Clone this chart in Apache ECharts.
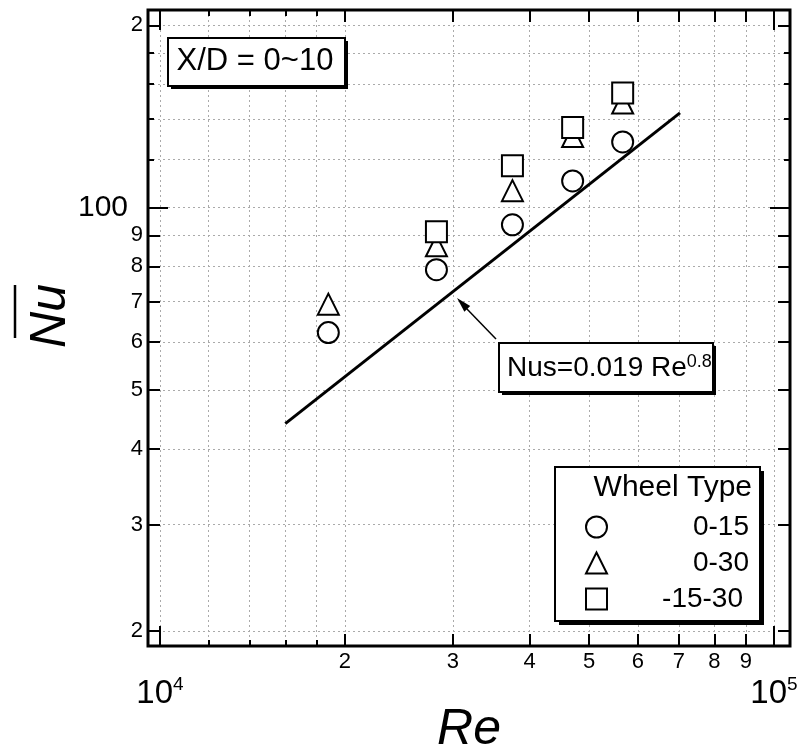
<!DOCTYPE html>
<html><head><meta charset="utf-8">
<script src="https://cdn.jsdelivr.net/npm/echarts@6/dist/echarts.min.js"></script>
<style>html,body{margin:0;padding:0;background:#fff}#c{width:807px;height:754px}</style>
</head><body><div id="c"></div>
<script>
const FONT = '"Liberation Sans", Arial, Helvetica, sans-serif';
const seriesNames = ['0-15', '0-30', '-15-30'];
const reCircle = [18800, 28200, 37500, 47000, 56700];
const nuCircle = [62.2, 79.0, 93.7, 110.7, 128.4];
const reTriangle = [18800, 28200, 37500, 47000, 56700];
const nuTriangle = [69.3, 86.5, 106.7, 131.1, 148.9];
const reSquare = [28200, 37500, 47000, 56700];
const nuSquare = [91.3, 117.3, 135.6, 154.6];
const fitRe = [16000, 70300];
const fitNu = [44.0, 143.4];
const xAllTicks = [10000, 12000, 14000, 16000, 18000, 20000, 30000, 40000, 50000, 60000, 70000, 80000, 90000, 100000];
const xLabelTicks = [20000, 30000, 40000, 50000, 60000, 70000, 80000, 90000];
const xDecadeTicks = [10000, 100000];
const yAllTicks = [20, 30, 40, 50, 60, 70, 80, 90, 100, 120, 140, 160, 180, 200];
const yMajorTicks = [20, 30, 40, 50, 60, 70, 80, 90, 200];
const yLabelTicks = [20, 30, 40, 50, 60, 70, 80, 90, 100, 200];
const yDecadeTicks = [100];
const X_MIN = 9560, X_MAX = 106200, Y_MIN = 18.9, Y_MAX = 212;

function mkAxis(pos, isX, ticks, len, more) {
  return Object.assign({
    type: 'log', logBase: 10, position: pos,
    min: isX ? X_MIN : Y_MIN, max: isX ? X_MAX : Y_MAX,
    axisLine: { show: false },
    axisTick: { show: true, inside: true, length: len, customValues: ticks, lineStyle: { color: '#000', width: 2 } },
    axisLabel: { show: false },
    splitLine: { show: false },
    minorTick: { show: false }, minorSplitLine: { show: false },
    silent: true
  }, more || {});
}
const gridLine = { show: true, lineStyle: { color: '#aaa', type: [2, 3], width: 1 } };
const markerStyle = { color: '#fff', borderColor: '#000', borderWidth: 2, opacity: 1 };

const chart = echarts.init(document.getElementById('c'), null, { renderer: 'canvas' });
const option = {
  animation: false,
  backgroundColor: '#fff',
  textStyle: { fontFamily: FONT },
  grid: { left: 148, top: 10, width: 642, height: 636, containLabel: false, outerBoundsMode: 'none', show: true, borderColor: '#000', borderWidth: 3, backgroundColor: 'transparent' },
  xAxis: [
    mkAxis('bottom', true, xAllTicks, 6, {
      name: 'Re', nameLocation: 'middle', nameGap: 59, nameMoveOverlap: false,
      nameTextStyle: { fontSize: 50, fontStyle: 'italic', color: '#000', fontFamily: FONT },
      splitLine: gridLine,
      axisLabel: { show: true, customValues: xLabelTicks, formatter: v => String(Math.round(v / 10000)), fontSize: 22, margin: 5, color: '#000', fontFamily: FONT }
    }),
    mkAxis('bottom', true, xLabelTicks, 12),
    mkAxis('bottom', true, xDecadeTicks, 20, {
      axisLabel: {
        show: true, customValues: xDecadeTicks, margin: 29, color: '#000', fontFamily: FONT,
        formatter: v => '{p|10}{s|' + Math.round(Math.log10(v)) + '}',
        rich: {
          p: { fontSize: 33, lineHeight: 33, padding: [5, 0, 0, 0], fontFamily: FONT, color: '#000' },
          s: { fontSize: 19, lineHeight: 19, verticalAlign: 'top', fontFamily: FONT, color: '#000' }
        }
      }
    }),
    mkAxis('top', true, xAllTicks, 6),
    mkAxis('top', true, xLabelTicks, 12),
    mkAxis('top', true, xDecadeTicks, 20)
  ],
  yAxis: [
    mkAxis('left', false, yAllTicks, 6, {
      name: 'Nu', nameLocation: 'middle', nameGap: 72, nameRotate: 90, nameMoveOverlap: false,
      nameTextStyle: { fontSize: 50, fontStyle: 'italic', color: '#000', fontFamily: FONT, padding: [0, 0, 0, 24] },
      splitLine: gridLine,
      axisLabel: {
        show: true, customValues: yLabelTicks, fontSize: 22, margin: 5, color: '#000', fontFamily: FONT,
        formatter: v => { const r = Math.round(v); if (r === 100) return '{h|100}'; return String(r >= 100 ? r / 100 : r / 10); },
        rich: { h: { fontSize: 30, padding: [0, 15, 0, 0], fontFamily: FONT, color: '#000' } }
      }
    }),
    mkAxis('left', false, yMajorTicks, 12),
    mkAxis('left', false, yDecadeTicks, 20),
    mkAxis('right', false, yAllTicks, 6),
    mkAxis('right', false, yMajorTicks, 12),
    mkAxis('right', false, yDecadeTicks, 20)
  ],
  legend: {
    data: seriesNames, orient: 'vertical', left: 585, top: 513, padding: 0,
    itemWidth: 21, itemHeight: 21, itemGap: 8, selectedMode: false, z: 10,
    formatter: name => (name === '-15-30' ? '{b|' + name + '}' : '{a|' + name + '}'),
    textStyle: {
      color: '#000', fontFamily: FONT, fontSize: 28,
      rich: {
        a: { width: 137, align: 'right', fontSize: 28, lineHeight: 21, fontFamily: FONT, color: '#000' },
        b: { width: 131, align: 'right', fontSize: 28, lineHeight: 21, fontFamily: FONT, color: '#000' }
      }
    }
  },
  series: [
    { type: 'line', name: 'fit', data: fitRe.map((r, i) => [r, fitNu[i]]), symbol: 'none', lineStyle: { color: '#000', width: 3 }, z: 2, silent: true },
    { type: 'scatter', name: seriesNames[0], data: reCircle.map((r, i) => [r, nuCircle[i]]), symbol: 'circle', symbolSize: 21, itemStyle: markerStyle, z: 3 },
    { type: 'scatter', name: seriesNames[1], data: reTriangle.map((r, i) => [r, nuTriangle[i]]), symbol: 'triangle', symbolSize: 21, itemStyle: markerStyle, z: 3 },
    { type: 'scatter', name: seriesNames[2], data: reSquare.map((r, i) => [r, nuSquare[i]]), symbol: 'rect', symbolSize: 21, itemStyle: markerStyle, z: 4 }
  ],
  graphic: [
    // X/D box
    { type: 'rect', z: 5, shape: { x: 171, y: 41, width: 177, height: 48 }, style: { fill: '#000' } },
    { type: 'rect', z: 5, shape: { x: 168, y: 38, width: 177, height: 48 }, style: { fill: '#fff', stroke: '#000', lineWidth: 2 } },
    { type: 'text', z: 6, x: 255, y: 61, style: { text: 'X/D = 0~10', font: '31px ' + FONT, fill: '#000', align: 'center', verticalAlign: 'middle' } },
    // Nus box
    { type: 'rect', z: 5, shape: { x: 502, y: 346, width: 214, height: 49 }, style: { fill: '#000' } },
    { type: 'rect', z: 5, shape: { x: 499, y: 343, width: 214, height: 49 }, style: { fill: '#fff', stroke: '#000', lineWidth: 2 } },
    { type: 'text', z: 6, x: 507, y: 368, style: {
        text: '{a|Nus=0.019 Re}{b|0.8}', fill: '#000', align: 'left', verticalAlign: 'middle',
        rich: { a: { font: '28px ' + FONT, lineHeight: 30, fill: '#000' }, b: { font: '18px ' + FONT, lineHeight: 18, verticalAlign: 'top', fill: '#000' } }
      } },
    // arrow
    { type: 'line', z: 6, shape: { x1: 496, y1: 339, x2: 466, y2: 308 }, style: { stroke: '#000', lineWidth: 1.5 } },
    { type: 'polygon', z: 6, shape: { points: [[457, 298], [470.2, 306.1], [464.4, 311.7]] }, style: { fill: '#000' } },
    // legend box
    { type: 'rect', z: 5, shape: { x: 559, y: 471, width: 205, height: 154 }, style: { fill: '#000' } },
    { type: 'rect', z: 5, shape: { x: 555, y: 467, width: 205, height: 154 }, style: { fill: '#fff', stroke: '#000', lineWidth: 2 } },
    { type: 'text', z: 6, x: 752, y: 488, style: { text: 'Wheel Type', font: '30px ' + FONT, fill: '#000', align: 'right', verticalAlign: 'middle' } },
    // overline of Nu
    { type: 'line', z: 6, shape: { x1: 15, y1: 285, x2: 15, y2: 338 }, style: { stroke: '#000', lineWidth: 2.5 } }
  ]
};
chart.setOption(option);
</script></body></html>
